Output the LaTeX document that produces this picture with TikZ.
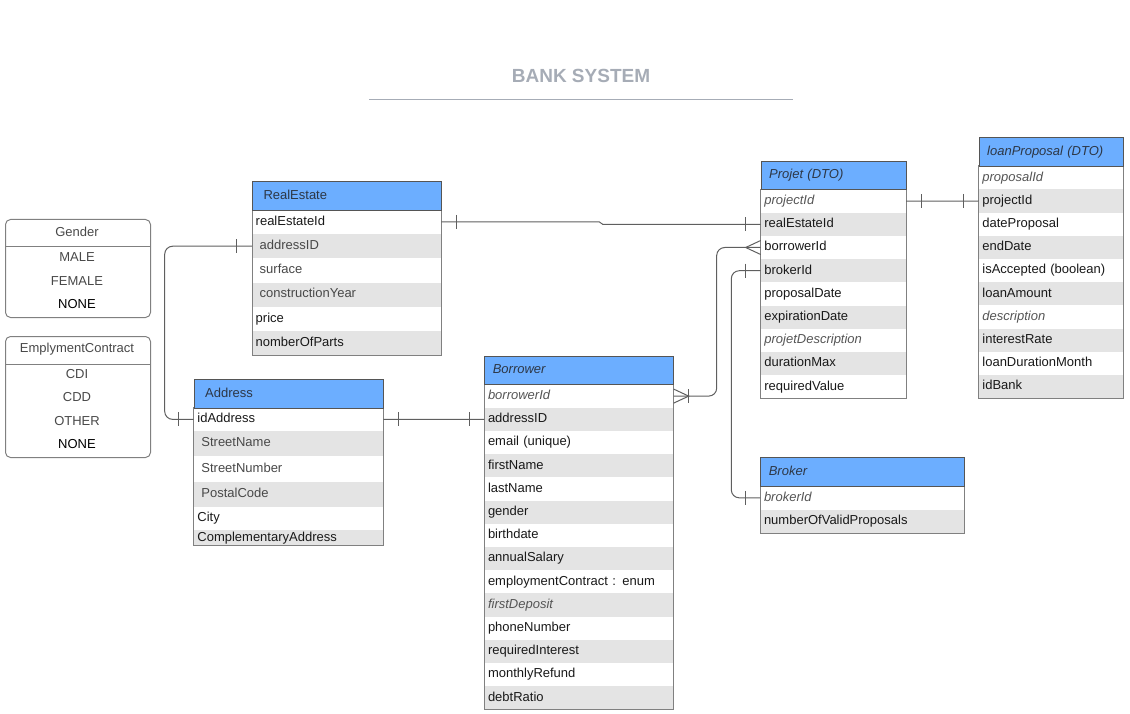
\documentclass[tikz,border=0pt]{standalone}
\usepackage{fontspec}
\setmainfont{Liberation Sans}
\usetikzlibrary{calc}
\definecolor{headblue}{RGB}{108, 174, 255}
\definecolor{rowgray}{RGB}{228, 228, 228}
\definecolor{bordergray}{RGB}{128, 128, 128}
\definecolor{headline}{RGB}{85, 85, 85}
\definecolor{linegray}{RGB}{95, 95, 95}
\definecolor{titlegray}{RGB}{166, 172, 182}
\definecolor{softtext}{RGB}{72, 72, 72}
\definecolor{italtext}{RGB}{85, 85, 85}
\definecolor{headtext}{RGB}{45, 55, 70}
\newcommand{\rowfont}{\fontsize{13}{15}\selectfont}
\newcommand{\indt}{\hspace*{4pt}\color{softtext}}
\newcommand{\ital}{\itshape\color{italtext}}

\begin{document}
\begin{tikzpicture}[x=1pt, y=-1pt,
    field/.style 2 args={anchor=north west, minimum height=#2pt, text width=#1pt-7pt, inner xsep=3.5pt,
                         inner ysep=0pt, align=left, font=\rowfont, text height=9.4pt, text depth=2.8pt, text=black!90},
    head/.style={anchor=north west, draw=headline, line width=1pt, fill=headblue, text=headtext, minimum height=28.7pt,
                 text width=#1pt-16pt, inner xsep=8pt, inner ysep=0pt, align=left, font=\rowfont,
                 text height=9.4pt, text depth=2.8pt},
    box/.style={draw=bordergray, line width=1pt},
    enumbox/.style={anchor=north west, draw=bordergray, line width=1pt, rounded corners=5pt, minimum width=145pt},
    enumtext/.style={font=\rowfont, text=softtext},
    conn/.style={draw=linegray, line width=1pt}]
    \useasboundingbox (0,0) rectangle (1130,714);

    % title
    \node[font=\bfseries\fontsize{19}{22}\selectfont, text=titlegray] (title) at (581,76) {BANK SYSTEM};
    \draw[titlegray, line width=1.5pt] (369,99.3) -- (793,99.3);

    % enums
    \node[enumbox, minimum height=98pt]  (gender) at (5,219) {};
    \draw[box] ([yshift=-28]gender.north west) -- ([yshift=-28]gender.north east);
    \node[enumtext] (gender-h) at (77,232) {Gender};
    \foreach \txt/\y [count=\i] in {MALE/257, FEMALE/281, \color{black}NONE/304}
        \node[enumtext] (gender-\i) at (77,\y) {\txt};

    \node[enumbox, minimum height=121pt] (contract) at (5,336) {};
    \draw[box] ([yshift=-28]contract.north west) -- ([yshift=-28]contract.north east);
    \node[enumtext] (contract-h) at (77,349) {EmplymentContract};
    \foreach \txt/\y [count=\i] in {CDI/374, CDD/397, OTHER/421, \color{black}NONE/444}
        \node[enumtext] (contract-\i) at (77,\y) {\txt};

    % RealEstate
    \foreach \txt [count=\i, evaluate=\i as \y using 209.7+(\i-1)*24.2, evaluate=\i as \g using {int(100*mod(\i+1,2))}]
        in {realEstateId, \indt addressID, \indt surface, \indt constructionYear, price, nomberOfParts}
        \node[field={189}{24.2}, fill=rowgray!\g] (re-\i) at (252,\y) {\txt};
    \draw[box] (re-1.north west) rectangle (re-6.south east);
    \node[head=189] (re-h) at (252,181) {\hspace*{3pt}RealEstate};

    % Address
    \foreach \txt/\y/\h [count=\i, evaluate=\i as \g using {int(100*mod(\i+1,2))}]
        in {idAddress/407.7/23, \indt StreetName/430.7/25.3, \indt StreetNumber/456/25.7,
            \indt PostalCode/481.7/25, City/506.7/23.3, ComplementaryAddress/530/15}
        \node[field={189.3}{\h}, fill=rowgray!\g] (ad-\i) at (193.7,\y) {\txt};
    \draw[box] (ad-1.north west) rectangle (ad-6.south east);
    \node[head=189.3] (ad-h) at (193.7,379) {\hspace*{3pt}Address};

    % Borrower
    \foreach \txt [count=\i, evaluate=\i as \y using 384.3+(\i-1)*23.2, evaluate=\i as \g using {int(100*mod(\i+1,2))}]
        in {\ital borrowerId, addressID, email (unique), firstName, lastName, gender, birthdate, annualSalary,
            employmentContract : enum, \ital firstDeposit, phoneNumber, requiredInterest, monthlyRefund, debtRatio}
        \node[field={189}{23.2}, fill=rowgray!\g] (bo-\i) at (484.3,\y) {\txt};
    \draw[box] (bo-1.north west) rectangle (bo-14.south east);
    \node[head=189] (bo-h) at (484.3,355.7) {\itshape Borrower};

    % Projet (DTO)
    \foreach \txt [count=\i, evaluate=\i as \y using 189.3+(\i-1)*23.2, evaluate=\i as \g using {int(100*mod(\i+1,2))}]
        in {\ital projectId, realEstateId, borrowerId, brokerId, proposalDate, expirationDate,
            \ital projetDescription, durationMax, requiredValue}
        \node[field={145}{23.2}, fill=rowgray!\g] (pj-\i) at (760.7,\y) {\txt};
    \draw[box] (pj-1.north west) rectangle (pj-9.south east);
    \node[head=145] (pj-h) at (760.7,160.7) {\itshape Projet (DTO)};

    % loanProposal (DTO)
    \foreach \txt [count=\i, evaluate=\i as \y using 166+(\i-1)*23.2, evaluate=\i as \g using {int(100*mod(\i+1,2))}]
        in {\ital proposalId, projectId, dateProposal, endDate, isAccepted (boolean), loanAmount,
            \ital description, interestRate, loanDurationMonth, idBank}
        \node[field={144.6}{23.2}, fill=rowgray!\g] (lp-\i) at (978.7,\y) {\txt};
    \draw[box] (lp-1.north west) rectangle (lp-10.south east);
    \node[head=144.6] (lp-h) at (978.7,137.3) {\itshape loanProposal (DTO)};

    % Broker
    \foreach \txt [count=\i, evaluate=\i as \y using 486+(\i-1)*23.3, evaluate=\i as \g using {int(100*mod(\i+1,2))}]
        in {\ital brokerId, numberOfValidProposals}
        \node[field={203.4}{23.3}, fill=rowgray!\g] (bk-\i) at (760.3,\y) {\txt};
    \draw[box] (bk-1.north west) rectangle (bk-2.south east);
    \node[head=203.4] (bk-h) at (760.3,457.3) {\itshape Broker};

    % relations
    \draw[conn] (re-1.east) -- ([xshift=158]re-1.east) -- ([xshift=-158]pj-2.west) -- (pj-2.west);
    \draw[conn, rounded corners=8pt] (re-2.west) -| ([xshift=-29]ad-1.west) -- (ad-1.west);
    \draw[conn] (ad-1.east) -- (bo-2.west);
    \draw[conn, rounded corners=8pt] (bo-1.east) -| ([xshift=-44]pj-3.west) -- (pj-3.west);
    \draw[conn, rounded corners=8pt] (pj-4.west) -| ([xshift=-29]bk-1.west) -- (bk-1.west);
    \draw[conn] (pj-1.east) -- (lp-2.west);

    % crow's feet
    \draw[conn] ([yshift=7]bo-1.east) -- ([xshift=15]bo-1.east) -- ([yshift=-7]bo-1.east);
    \draw[conn] ([yshift=7]pj-3.west) -- ([xshift=-15]pj-3.west) -- ([yshift=-7]pj-3.west);

    % bars
    \foreach \p/\s in {re-1.east/15, pj-2.west/-15, re-2.west/-16, ad-1.west/-15, ad-1.east/15, bo-2.west/-15,
                       bo-1.east/15, pj-4.west/-15, bk-1.west/-15, pj-1.east/15, lp-2.west/-15}
        \draw[conn] ([xshift=\s, yshift=7]\p) -- ([xshift=\s, yshift=-7]\p);
\end{tikzpicture}
\end{document}
